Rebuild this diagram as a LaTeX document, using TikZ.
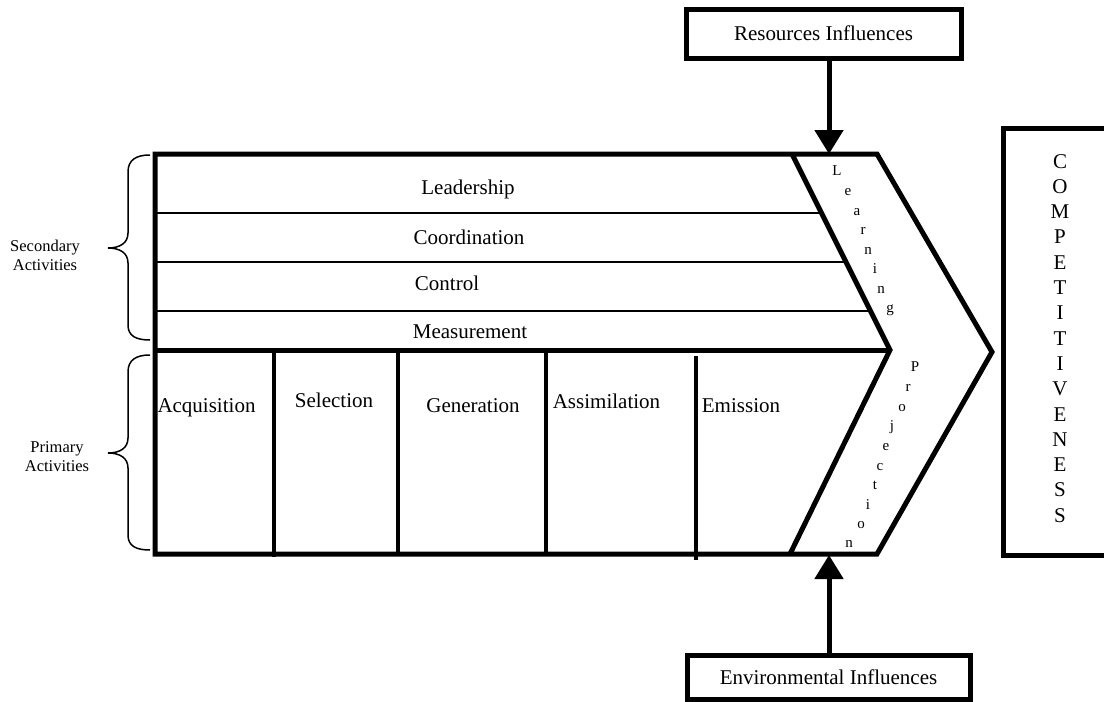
\documentclass[tikz,border=0pt]{standalone}
\usepackage{fontspec}
\setmainfont{Liberation Serif}
\usetikzlibrary{arrows.meta}
\begin{document}
\begin{tikzpicture}[x=1pt,y=-1pt,
  thickline/.style={line width=5pt},
  thinline/.style={line width=2pt},
  divline/.style={line width=4pt},
  lbl/.style={font=\fontsize{21}{24}\selectfont, inner sep=0pt, anchor=base},
  sidelbl/.style={font=\fontsize{16.5}{19}\selectfont, align=center, inner sep=0pt},
  letter/.style={font=\fontsize{15}{18}\selectfont, inner sep=0pt, anchor=base},
  bigletter/.style={font=\fontsize{21}{24}\selectfont, inner sep=0pt, anchor=base},
  infbox/.style={draw, line width=5pt, font=\fontsize{21}{24}\selectfont, inner sep=0pt},
  arr/.style={line width=5pt, -{Triangle[width=28pt,length=24pt]}},
  bracestyle/.style={line width=1.5pt}
]
\useasboundingbox (0,0) rectangle (1104,702);
\clip (0,0) rectangle (1104,702);

% chevron corner coordinates
\coordinate (tl) at (155,154);
\coordinate (tr) at (877,154);
\coordinate (tip) at (992,352);
\coordinate (br) at (877,554);
\coordinate (bl) at (155,554);
\coordinate (itop) at (792,154);
\coordinate (itip) at (890,350);
\coordinate (ibot) at (790,554);
\coordinate (sepL) at (155,350);
\coordinate (tipT) at (829,154);
\coordinate (tipB) at (829,555);

% thin secondary lines
\draw[thinline] (155,213) -- (821.5,213);
\draw[thinline] (155,262) -- (846,262);
\draw[thinline] (155,311) -- (870.5,311);

% dividers of primary activities
\draw[divline] (274,350) -- (274,557);
\draw[divline] (398,350) -- (398,554);
\draw[divline] (546,350) -- (546,556);
\draw[divline] (696,356) -- (696,560);

% outline
\draw[thickline] (tl) -- (tr) -- (tip) -- (br) -- (bl) -- cycle;
\draw[thickline] (itop) -- (itip) -- (ibot);
\draw[thickline] (sepL) -- (itip);

% secondary labels
\node[lbl] (lead) at (468,194) {Leadership};
\node[lbl] (coord) at (469,244) {Coordination};
\node[lbl] (ctrl) at (447,290) {Control};
\node[lbl] (meas) at (470,338) {Measurement};

% primary labels
\node[lbl] (acq) at (206.5,412) {Acquisition};
\node[lbl] (sel) at (334,407) {Selection};
\node[lbl] (gen) at (473,412) {Generation};
\node[lbl] (assim) at (606.5,408) {Assimilation};
\node[lbl] (emis) at (741,412) {Emission};

% Learning
\foreach \ch/\x/\y [count=\i] in {L/837/175, e/848/195, a/857/215, r/863/234, n/868/254, i/875/273, n/881/293, g/890/312}
  \node[letter] (learn\i) at (\x,\y) {\ch};

% Projection
\foreach \ch/\x/\y [count=\i] in {P/915/371, r/908/391, o/902/411, j/892/430, e/886/450, c/880/470, t/875/489, i/868/509, o/861/528, n/849/547}
  \node[letter] (proj\i) at (\x,\y) {\ch};

% Competitiveness box
\draw[thickline] (1115,128) -- (1003,128) -- (1003,555) -- (1115,555);
\foreach \ch [count=\i from 0] in {C,O,M,P,E,T,I,T,I,V,E,N,E,S,S}
  \node[bigletter] (comp\i) at (1060,{168+25.3*\i}) {\ch};

% influence boxes
\node[infbox, minimum width=275pt, minimum height=49pt] (res) at (823.5,33.5) {Resources Influences};
\node[infbox, minimum width=283pt, minimum height=44pt] (env) at (828.5,677) {Environmental Influences};
\draw[arr] (res.south -| tipT) -- (tipT);
\draw[arr] (env.north -| tipB) -- (tipB);

% braces
\draw[bracestyle] (150,155) .. controls (136,155) and (128,160) .. (128,172) -- (128,233)
  .. controls (128,243) and (120,248) .. (108,248) .. controls (120,248) and (128,253) .. (128,263)
  -- (128,325) .. controls (128,336) and (136,340) .. (150,340);
\draw[bracestyle] (150,355) .. controls (136,355) and (128,360) .. (128,372) -- (128,438)
  .. controls (128,448) and (120,453) .. (108,453) .. controls (120,453) and (128,458) .. (128,468)
  -- (128,535) .. controls (128,546) and (136,550) .. (150,550);

% side labels
\node[sidelbl] (sec) at (45,255) {Secondary\\Activities};
\node[sidelbl] (prim) at (57,457) {Primary\\Activities};
\end{tikzpicture}
\end{document}
